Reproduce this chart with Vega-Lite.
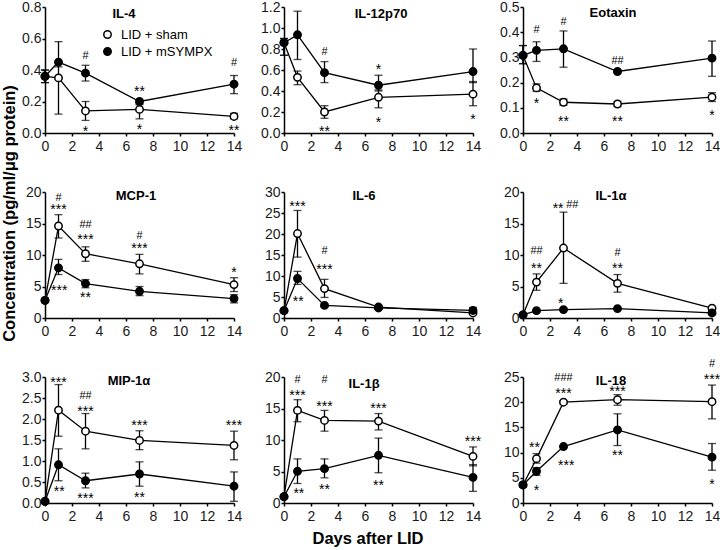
{
"$schema": "https://vega.github.io/schema/vega-lite/v6.json",
"background": "white",
"padding": {"left": 0, "top": 0, "right": 5, "bottom": 2},
"columns": 3,
"spacing": {"row": 59, "column": 50},
"bounds": "flush",
"resolve": {"scale": {"fill": "independent"}, "legend": {"fill": "independent"}},
"datasets": {
"d": [
{"c":"IL-4","g":"LID + sham","day":0,"m":0.36,"lo":0.32,"hi":0.40},
{"c":"IL-4","g":"LID + sham","day":1,"m":0.35,"lo":0.12,"hi":0.45},
{"c":"IL-4","g":"LID + sham","day":3,"m":0.14,"lo":0.08,"hi":0.20},
{"c":"IL-4","g":"LID + sham","day":7,"m":0.15,"lo":0.09,"hi":0.18},
{"c":"IL-4","g":"LID + sham","day":14,"m":0.105,"lo":0.09,"hi":0.125},
{"c":"IL-4","g":"LID + mSYMPX","day":0,"m":0.36,"lo":0.32,"hi":0.40},
{"c":"IL-4","g":"LID + mSYMPX","day":1,"m":0.45,"lo":0.42,"hi":0.58},
{"c":"IL-4","g":"LID + mSYMPX","day":3,"m":0.38,"lo":0.33,"hi":0.43},
{"c":"IL-4","g":"LID + mSYMPX","day":7,"m":0.20,"lo":0.19,"hi":0.21},
{"c":"IL-4","g":"LID + mSYMPX","day":14,"m":0.31,"lo":0.25,"hi":0.365},
{"c":"IL-12p70","g":"LID + sham","day":0,"m":0.86,"lo":0.74,"hi":0.9},
{"c":"IL-12p70","g":"LID + sham","day":1,"m":0.53,"lo":0.46,"hi":0.59},
{"c":"IL-12p70","g":"LID + sham","day":3,"m":0.20,"lo":0.14,"hi":0.26},
{"c":"IL-12p70","g":"LID + sham","day":7,"m":0.34,"lo":0.24,"hi":0.41},
{"c":"IL-12p70","g":"LID + sham","day":14,"m":0.37,"lo":0.26,"hi":0.49},
{"c":"IL-12p70","g":"LID + mSYMPX","day":0,"m":0.86,"lo":0.74,"hi":0.9},
{"c":"IL-12p70","g":"LID + mSYMPX","day":1,"m":0.935,"lo":0.70,"hi":1.16},
{"c":"IL-12p70","g":"LID + mSYMPX","day":3,"m":0.575,"lo":0.48,"hi":0.68},
{"c":"IL-12p70","g":"LID + mSYMPX","day":7,"m":0.455,"lo":0.40,"hi":0.55},
{"c":"IL-12p70","g":"LID + mSYMPX","day":14,"m":0.585,"lo":0.48,"hi":0.80},
{"c":"Eotaxin","g":"LID + sham","day":0,"m":0.308,"lo":0.275,"hi":0.347},
{"c":"Eotaxin","g":"LID + sham","day":1,"m":0.179,"lo":0.165,"hi":0.195},
{"c":"Eotaxin","g":"LID + sham","day":3,"m":0.122,"lo":0.11,"hi":0.135},
{"c":"Eotaxin","g":"LID + sham","day":7,"m":0.115,"lo":0.105,"hi":0.125},
{"c":"Eotaxin","g":"LID + sham","day":14,"m":0.142,"lo":0.125,"hi":0.16},
{"c":"Eotaxin","g":"LID + mSYMPX","day":0,"m":0.308,"lo":0.275,"hi":0.347},
{"c":"Eotaxin","g":"LID + mSYMPX","day":1,"m":0.328,"lo":0.284,"hi":0.362},
{"c":"Eotaxin","g":"LID + mSYMPX","day":3,"m":0.334,"lo":0.261,"hi":0.405},
{"c":"Eotaxin","g":"LID + mSYMPX","day":7,"m":0.244,"lo":0.238,"hi":0.25},
{"c":"Eotaxin","g":"LID + mSYMPX","day":14,"m":0.297,"lo":0.225,"hi":0.365},
{"c":"MCP-1","g":"LID + sham","day":0,"m":2.8,"lo":2.5,"hi":3.1},
{"c":"MCP-1","g":"LID + sham","day":1,"m":14.6,"lo":12.7,"hi":16.4},
{"c":"MCP-1","g":"LID + sham","day":3,"m":10.2,"lo":9.0,"hi":11.3},
{"c":"MCP-1","g":"LID + sham","day":7,"m":8.6,"lo":7.0,"hi":10.1},
{"c":"MCP-1","g":"LID + sham","day":14,"m":5.3,"lo":4.2,"hi":6.4},
{"c":"MCP-1","g":"LID + mSYMPX","day":0,"m":2.8,"lo":2.5,"hi":3.1},
{"c":"MCP-1","g":"LID + mSYMPX","day":1,"m":7.96,"lo":6.9,"hi":9.3},
{"c":"MCP-1","g":"LID + mSYMPX","day":3,"m":5.46,"lo":4.8,"hi":6.1},
{"c":"MCP-1","g":"LID + mSYMPX","day":7,"m":4.24,"lo":3.55,"hi":5.0},
{"c":"MCP-1","g":"LID + mSYMPX","day":14,"m":3.08,"lo":2.4,"hi":3.7},
{"c":"IL-6","g":"LID + sham","day":0,"m":1.75,"lo":1.4,"hi":2.1},
{"c":"IL-6","g":"LID + sham","day":1,"m":20.1,"lo":14.5,"hi":25.6},
{"c":"IL-6","g":"LID + sham","day":3,"m":7.0,"lo":4.9,"hi":9.2},
{"c":"IL-6","g":"LID + sham","day":7,"m":2.6,"lo":2.2,"hi":3.0},
{"c":"IL-6","g":"LID + sham","day":14,"m":1.2,"lo":1.0,"hi":1.4},
{"c":"IL-6","g":"LID + mSYMPX","day":0,"m":1.75,"lo":1.4,"hi":2.1},
{"c":"IL-6","g":"LID + mSYMPX","day":1,"m":9.4,"lo":8.0,"hi":11.1},
{"c":"IL-6","g":"LID + mSYMPX","day":3,"m":3.0,"lo":2.7,"hi":3.3},
{"c":"IL-6","g":"LID + mSYMPX","day":7,"m":2.4,"lo":2.1,"hi":2.7},
{"c":"IL-6","g":"LID + mSYMPX","day":14,"m":1.8,"lo":1.2,"hi":2.5},
{"c":"IL-1α","g":"LID + sham","day":0,"m":0.5,"lo":0.4,"hi":0.6},
{"c":"IL-1α","g":"LID + sham","day":1,"m":5.7,"lo":4.4,"hi":7.0},
{"c":"IL-1α","g":"LID + sham","day":3,"m":11.1,"lo":5.5,"hi":16.8},
{"c":"IL-1α","g":"LID + sham","day":7,"m":5.5,"lo":4.1,"hi":6.9},
{"c":"IL-1α","g":"LID + sham","day":14,"m":1.55,"lo":1.4,"hi":1.7},
{"c":"IL-1α","g":"LID + mSYMPX","day":0,"m":0.5,"lo":0.4,"hi":0.6},
{"c":"IL-1α","g":"LID + mSYMPX","day":1,"m":1.17,"lo":1.0,"hi":1.3},
{"c":"IL-1α","g":"LID + mSYMPX","day":3,"m":1.33,"lo":1.2,"hi":1.45},
{"c":"IL-1α","g":"LID + mSYMPX","day":7,"m":1.49,"lo":1.35,"hi":1.6},
{"c":"IL-1α","g":"LID + mSYMPX","day":14,"m":0.8,"lo":0.7,"hi":0.9},
{"c":"MIP-1α","g":"LID + sham","day":0,"m":0.04,"lo":0.02,"hi":0.06},
{"c":"MIP-1α","g":"LID + sham","day":1,"m":2.21,"lo":1.59,"hi":2.82},
{"c":"MIP-1α","g":"LID + sham","day":3,"m":1.71,"lo":1.29,"hi":2.13},
{"c":"MIP-1α","g":"LID + sham","day":7,"m":1.49,"lo":1.27,"hi":1.72},
{"c":"MIP-1α","g":"LID + sham","day":14,"m":1.37,"lo":1.03,"hi":1.71},
{"c":"MIP-1α","g":"LID + mSYMPX","day":0,"m":0.04,"lo":0.02,"hi":0.06},
{"c":"MIP-1α","g":"LID + mSYMPX","day":1,"m":0.91,"lo":0.53,"hi":1.29},
{"c":"MIP-1α","g":"LID + mSYMPX","day":3,"m":0.53,"lo":0.36,"hi":0.71},
{"c":"MIP-1α","g":"LID + mSYMPX","day":7,"m":0.69,"lo":0.40,"hi":0.98},
{"c":"MIP-1α","g":"LID + mSYMPX","day":14,"m":0.40,"lo":0.04,"hi":0.74},
{"c":"IL-1β","g":"LID + sham","day":0,"m":1.0,"lo":0.8,"hi":1.2},
{"c":"IL-1β","g":"LID + sham","day":1,"m":14.7,"lo":12.9,"hi":16.4},
{"c":"IL-1β","g":"LID + sham","day":3,"m":13.1,"lo":11.4,"hi":14.7},
{"c":"IL-1β","g":"LID + sham","day":7,"m":13.0,"lo":11.6,"hi":14.2},
{"c":"IL-1β","g":"LID + sham","day":14,"m":7.4,"lo":5.9,"hi":8.9},
{"c":"IL-1β","g":"LID + mSYMPX","day":0,"m":1.0,"lo":0.8,"hi":1.2},
{"c":"IL-1β","g":"LID + mSYMPX","day":1,"m":5.03,"lo":3.1,"hi":7.0},
{"c":"IL-1β","g":"LID + mSYMPX","day":3,"m":5.45,"lo":4.0,"hi":7.0},
{"c":"IL-1β","g":"LID + mSYMPX","day":7,"m":7.57,"lo":4.8,"hi":10.3},
{"c":"IL-1β","g":"LID + mSYMPX","day":14,"m":4.07,"lo":1.85,"hi":6.1},
{"c":"IL-18","g":"LID + sham","day":0,"m":3.58,"lo":3.2,"hi":4.0},
{"c":"IL-18","g":"LID + sham","day":1,"m":8.8,"lo":7.9,"hi":9.8},
{"c":"IL-18","g":"LID + sham","day":3,"m":20.0,"lo":19.7,"hi":20.3},
{"c":"IL-18","g":"LID + sham","day":7,"m":20.5,"lo":19.4,"hi":21.5},
{"c":"IL-18","g":"LID + sham","day":14,"m":20.1,"lo":16.7,"hi":23.4},
{"c":"IL-18","g":"LID + mSYMPX","day":0,"m":3.58,"lo":3.2,"hi":4.0},
{"c":"IL-18","g":"LID + mSYMPX","day":1,"m":6.3,"lo":5.5,"hi":7.0},
{"c":"IL-18","g":"LID + mSYMPX","day":3,"m":11.2,"lo":11.0,"hi":11.4},
{"c":"IL-18","g":"LID + mSYMPX","day":7,"m":14.5,"lo":11.4,"hi":17.7},
{"c":"IL-18","g":"LID + mSYMPX","day":14,"m":9.1,"lo":6.5,"hi":11.8}
],
"a": [
{"c":"IL-4","day":5.85,"ay":0.757,"t":"IL-4"},
{"c":"IL-4","day":3,"ay":0.49,"t":"#"},
{"c":"IL-4","day":3,"ay":0.03,"t":"*"},
{"c":"IL-4","day":7,"ay":0.286,"t":"**"},
{"c":"IL-4","day":7,"ay":0.042,"t":"*"},
{"c":"IL-4","day":14,"ay":0.442,"t":"#"},
{"c":"IL-4","day":14,"ay":0.035,"t":"**"},
{"c":"IL-12p70","day":7.19,"ay":1.136,"t":"IL-12p70"},
{"c":"IL-12p70","day":3,"ay":0.775,"t":"#"},
{"c":"IL-12p70","day":3,"ay":0.05,"t":"**"},
{"c":"IL-12p70","day":7,"ay":0.64,"t":"*"},
{"c":"IL-12p70","day":7,"ay":0.137,"t":"*"},
{"c":"IL-12p70","day":14,"ay":0.16,"t":"*"},
{"c":"Eotaxin","day":6.67,"ay":0.476,"t":"Eotaxin"},
{"c":"Eotaxin","day":1,"ay":0.41,"t":"#"},
{"c":"Eotaxin","day":1,"ay":0.13,"t":"*"},
{"c":"Eotaxin","day":3,"ay":0.44,"t":"#"},
{"c":"Eotaxin","day":3,"ay":0.06,"t":"**"},
{"c":"Eotaxin","day":7,"ay":0.285,"t":"##"},
{"c":"Eotaxin","day":7,"ay":0.06,"t":"**"},
{"c":"Eotaxin","day":14,"ay":0.082,"t":"*"},
{"c":"MCP-1","day":6.74,"ay":19.37,"t":"MCP-1"},
{"c":"MCP-1","day":1,"ay":19.1,"t":"#"},
{"c":"MCP-1","day":1,"ay":17.7,"t":"***"},
{"c":"MCP-1","day":1.05,"ay":5.0,"t":"***"},
{"c":"MCP-1","day":3,"ay":14.7,"t":"##"},
{"c":"MCP-1","day":3,"ay":13.0,"t":"***"},
{"c":"MCP-1","day":3,"ay":3.8,"t":"**"},
{"c":"MCP-1","day":7,"ay":13.0,"t":"#"},
{"c":"MCP-1","day":7,"ay":11.6,"t":"***"},
{"c":"MCP-1","day":14,"ay":7.7,"t":"*"},
{"c":"IL-6","day":5.93,"ay":29.05,"t":"IL-6"},
{"c":"IL-6","day":1,"ay":27.3,"t":"***"},
{"c":"IL-6","day":1.06,"ay":4.8,"t":"**"},
{"c":"IL-6","day":3,"ay":15.9,"t":"#"},
{"c":"IL-6","day":3,"ay":12.3,"t":"***"},
{"c":"IL-1α","day":6.52,"ay":19.37,"t":"IL-1α"},
{"c":"IL-1α","day":1,"ay":10.6,"t":"##"},
{"c":"IL-1α","day":1,"ay":8.4,"t":"**"},
{"c":"IL-1α","day":2.6,"ay":18.0,"t":"**"},
{"c":"IL-1α","day":3.65,"ay":18.0,"t":"##"},
{"c":"IL-1α","day":2.8,"ay":2.9,"t":"*"},
{"c":"IL-1α","day":7,"ay":10.3,"t":"#"},
{"c":"IL-1α","day":7,"ay":8.4,"t":"**"},
{"c":"MIP-1α","day":6.22,"ay":2.905,"t":"MIP-1α"},
{"c":"MIP-1α","day":1,"ay":2.95,"t":"***"},
{"c":"MIP-1α","day":1.05,"ay":0.36,"t":"**"},
{"c":"MIP-1α","day":3,"ay":2.54,"t":"##"},
{"c":"MIP-1α","day":3,"ay":2.26,"t":"***"},
{"c":"MIP-1α","day":3,"ay":0.18,"t":"***"},
{"c":"MIP-1α","day":7,"ay":1.92,"t":"***"},
{"c":"MIP-1α","day":7,"ay":0.21,"t":"**"},
{"c":"MIP-1α","day":14,"ay":1.94,"t":"***"},
{"c":"IL-1β","day":5.93,"ay":18.9,"t":"IL-1β"},
{"c":"IL-1β","day":1,"ay":19.6,"t":"#"},
{"c":"IL-1β","day":1,"ay":17.6,"t":"***"},
{"c":"IL-1β","day":1.1,"ay":2.1,"t":"**"},
{"c":"IL-1β","day":3,"ay":19.5,"t":"#"},
{"c":"IL-1β","day":3,"ay":15.9,"t":"***"},
{"c":"IL-1β","day":3,"ay":2.65,"t":"**"},
{"c":"IL-1β","day":7,"ay":15.6,"t":"***"},
{"c":"IL-1β","day":7,"ay":3.4,"t":"**"},
{"c":"IL-1β","day":14,"ay":10.3,"t":"***"},
{"c":"IL-18","day":6.52,"ay":24.2,"t":"IL-18"},
{"c":"IL-18","day":0.85,"ay":11.7,"t":"**"},
{"c":"IL-18","day":1,"ay":3.1,"t":"*"},
{"c":"IL-18","day":3,"ay":24.8,"t":"###"},
{"c":"IL-18","day":3,"ay":22.4,"t":"***"},
{"c":"IL-18","day":3.2,"ay":8.1,"t":"***"},
{"c":"IL-18","day":7,"ay":22.9,"t":"***"},
{"c":"IL-18","day":7,"ay":10.2,"t":"**"},
{"c":"IL-18","day":14,"ay":27.5,"t":"#"},
{"c":"IL-18","day":14,"ay":25.1,"t":"***"},
{"c":"IL-18","day":14,"ay":4.3,"t":"*"}
]
},
"concat": [
{"width":189,"height":126,
 "data":{"name":"d"},"transform":[{"filter":"datum.c=='IL-4'"}],
 "encoding":{"x":{"field":"day","type":"quantitative","title":null,"scale":{"domain":[0,14]},"axis":{"values":[0,2,4,6,8,10,12,14]}},
  "y":{"field":"m","type":"quantitative","title":null,"scale":{"domain":[0,0.8]},"axis":{"values":[0,0.2,0.4,0.6,0.8],"format":".1f"}}},
 "layer":[
  {"mark":"line","encoding":{"detail":{"field":"g"}}},
  {"mark":"rule","encoding":{"y":{"field":"lo","type":"quantitative","title":null},"y2":{"field":"hi"}}},
  {"mark":{"type":"tick","orient":"horizontal"},"encoding":{"y":{"field":"lo","type":"quantitative","title":null}}},
  {"mark":{"type":"tick","orient":"horizontal"},"encoding":{"y":{"field":"hi","type":"quantitative","title":null}}},
  {"mark":{"type":"point","filled":true,"stroke":"black","strokeWidth":1.5,"size":55,"opacity":1},"encoding":{"fill":{"field":"g","type":"nominal","scale":{"domain":["LID + sham","LID + mSYMPX"],"range":["white","black"]},
   "legend":{"orient":"none","legendX":56,"legendY":21,"title":null,"labelFontSize":13,"labelColor":"black","symbolStrokeColor":"black","symbolStrokeWidth":1.5,"symbolSize":55,"symbolType":"circle","rowPadding":2,"labelOffset":7}}}},
  {"data":{"name":"a"},"transform":[{"filter":"datum.c=='IL-4' && datum.t!=datum.c && indexof(datum.t,'#')<0"}],"mark":{"type":"text","style":"ast"},"encoding":{"y":{"field":"ay","type":"quantitative","title":null},"text":{"field":"t"}}},
  {"data":{"name":"a"},"transform":[{"filter":"datum.c=='IL-4' && indexof(datum.t,'#')>=0"}],"mark":{"type":"text","style":"hash"},"encoding":{"y":{"field":"ay","type":"quantitative","title":null},"text":{"field":"t"}}},
  {"data":{"name":"a"},"transform":[{"filter":"datum.c=='IL-4' && datum.t==datum.c"}],"mark":{"type":"text","style":"ptitle"},"encoding":{"y":{"field":"ay","type":"quantitative","title":null},"text":{"field":"t"}}}
 ]},
{"width":189,"height":126,
 "data":{"name":"d"},"transform":[{"filter":"datum.c=='IL-12p70'"}],
 "encoding":{"x":{"field":"day","type":"quantitative","title":null,"scale":{"domain":[0,14]},"axis":{"values":[0,2,4,6,8,10,12,14]}},
  "y":{"field":"m","type":"quantitative","title":null,"scale":{"domain":[0,1.2]},"axis":{"values":[0,0.2,0.4,0.6,0.8,1.0,1.2],"format":".1f"}}},
 "layer":[
  {"mark":"line","encoding":{"detail":{"field":"g"}}},
  {"mark":"rule","encoding":{"y":{"field":"lo","type":"quantitative","title":null},"y2":{"field":"hi"}}},
  {"mark":{"type":"tick","orient":"horizontal"},"encoding":{"y":{"field":"lo","type":"quantitative","title":null}}},
  {"mark":{"type":"tick","orient":"horizontal"},"encoding":{"y":{"field":"hi","type":"quantitative","title":null}}},
  {"mark":{"type":"point","filled":true,"stroke":"black","strokeWidth":1.5,"size":55,"opacity":1},"encoding":{"fill":{"field":"g","type":"nominal","scale":{"domain":["LID + sham","LID + mSYMPX"],"range":["white","black"]},"legend":null}}},
  {"data":{"name":"a"},"transform":[{"filter":"datum.c=='IL-12p70' && datum.t!=datum.c && indexof(datum.t,'#')<0"}],"mark":{"type":"text","style":"ast"},"encoding":{"y":{"field":"ay","type":"quantitative","title":null},"text":{"field":"t"}}},
  {"data":{"name":"a"},"transform":[{"filter":"datum.c=='IL-12p70' && indexof(datum.t,'#')>=0"}],"mark":{"type":"text","style":"hash"},"encoding":{"y":{"field":"ay","type":"quantitative","title":null},"text":{"field":"t"}}},
  {"data":{"name":"a"},"transform":[{"filter":"datum.c=='IL-12p70' && datum.t==datum.c"}],"mark":{"type":"text","style":"ptitle"},"encoding":{"y":{"field":"ay","type":"quantitative","title":null},"text":{"field":"t"}}}
 ]},
{"width":189,"height":126,
 "data":{"name":"d"},"transform":[{"filter":"datum.c=='Eotaxin'"}],
 "encoding":{"x":{"field":"day","type":"quantitative","title":null,"scale":{"domain":[0,14]},"axis":{"values":[0,2,4,6,8,10,12,14]}},
  "y":{"field":"m","type":"quantitative","title":null,"scale":{"domain":[0,0.5]},"axis":{"values":[0,0.1,0.2,0.3,0.4,0.5],"format":".1f"}}},
 "layer":[
  {"mark":"line","encoding":{"detail":{"field":"g"}}},
  {"mark":"rule","encoding":{"y":{"field":"lo","type":"quantitative","title":null},"y2":{"field":"hi"}}},
  {"mark":{"type":"tick","orient":"horizontal"},"encoding":{"y":{"field":"lo","type":"quantitative","title":null}}},
  {"mark":{"type":"tick","orient":"horizontal"},"encoding":{"y":{"field":"hi","type":"quantitative","title":null}}},
  {"mark":{"type":"point","filled":true,"stroke":"black","strokeWidth":1.5,"size":55,"opacity":1},"encoding":{"fill":{"field":"g","type":"nominal","scale":{"domain":["LID + sham","LID + mSYMPX"],"range":["white","black"]},"legend":null}}},
  {"data":{"name":"a"},"transform":[{"filter":"datum.c=='Eotaxin' && datum.t!=datum.c && indexof(datum.t,'#')<0"}],"mark":{"type":"text","style":"ast"},"encoding":{"y":{"field":"ay","type":"quantitative","title":null},"text":{"field":"t"}}},
  {"data":{"name":"a"},"transform":[{"filter":"datum.c=='Eotaxin' && indexof(datum.t,'#')>=0"}],"mark":{"type":"text","style":"hash"},"encoding":{"y":{"field":"ay","type":"quantitative","title":null},"text":{"field":"t"}}},
  {"data":{"name":"a"},"transform":[{"filter":"datum.c=='Eotaxin' && datum.t==datum.c"}],"mark":{"type":"text","style":"ptitle"},"encoding":{"y":{"field":"ay","type":"quantitative","title":null},"text":{"field":"t"}}}
 ]},
{"width":189,"height":126,
 "data":{"name":"d"},"transform":[{"filter":"datum.c=='MCP-1'"}],
 "encoding":{"x":{"field":"day","type":"quantitative","title":null,"scale":{"domain":[0,14]},"axis":{"values":[0,2,4,6,8,10,12,14]}},
  "y":{"field":"m","type":"quantitative","title":"Concentration (pg/ml/μg protein)","scale":{"domain":[0,20]},"axis":{"values":[0,5,10,15,20],"format":"d","titleX":-36,"titleY":21,"titleAngle":-90,"titleAlign":"center","titleBaseline":"middle"}}},
 "layer":[
  {"mark":"line","encoding":{"detail":{"field":"g"}}},
  {"mark":"rule","encoding":{"y":{"field":"lo","type":"quantitative"},"y2":{"field":"hi"}}},
  {"mark":{"type":"tick","orient":"horizontal"},"encoding":{"y":{"field":"lo","type":"quantitative"}}},
  {"mark":{"type":"tick","orient":"horizontal"},"encoding":{"y":{"field":"hi","type":"quantitative"}}},
  {"mark":{"type":"point","filled":true,"stroke":"black","strokeWidth":1.5,"size":55,"opacity":1},"encoding":{"fill":{"field":"g","type":"nominal","scale":{"domain":["LID + sham","LID + mSYMPX"],"range":["white","black"]},"legend":null}}},
  {"data":{"name":"a"},"transform":[{"filter":"datum.c=='MCP-1' && datum.t!=datum.c && indexof(datum.t,'#')<0"}],"mark":{"type":"text","style":"ast"},"encoding":{"y":{"field":"ay","type":"quantitative"},"text":{"field":"t"}}},
  {"data":{"name":"a"},"transform":[{"filter":"datum.c=='MCP-1' && indexof(datum.t,'#')>=0"}],"mark":{"type":"text","style":"hash"},"encoding":{"y":{"field":"ay","type":"quantitative"},"text":{"field":"t"}}},
  {"data":{"name":"a"},"transform":[{"filter":"datum.c=='MCP-1' && datum.t==datum.c"}],"mark":{"type":"text","style":"ptitle"},"encoding":{"y":{"field":"ay","type":"quantitative"},"text":{"field":"t"}}}
 ]},
{"width":189,"height":126,
 "data":{"name":"d"},"transform":[{"filter":"datum.c=='IL-6'"}],
 "encoding":{"x":{"field":"day","type":"quantitative","title":null,"scale":{"domain":[0,14]},"axis":{"values":[0,2,4,6,8,10,12,14]}},
  "y":{"field":"m","type":"quantitative","title":null,"scale":{"domain":[0,30]},"axis":{"values":[0,5,10,15,20,25,30],"format":"d"}}},
 "layer":[
  {"mark":"line","encoding":{"detail":{"field":"g"}}},
  {"mark":"rule","encoding":{"y":{"field":"lo","type":"quantitative","title":null},"y2":{"field":"hi"}}},
  {"mark":{"type":"tick","orient":"horizontal"},"encoding":{"y":{"field":"lo","type":"quantitative","title":null}}},
  {"mark":{"type":"tick","orient":"horizontal"},"encoding":{"y":{"field":"hi","type":"quantitative","title":null}}},
  {"mark":{"type":"point","filled":true,"stroke":"black","strokeWidth":1.5,"size":55,"opacity":1},"encoding":{"fill":{"field":"g","type":"nominal","scale":{"domain":["LID + sham","LID + mSYMPX"],"range":["white","black"]},"legend":null}}},
  {"data":{"name":"a"},"transform":[{"filter":"datum.c=='IL-6' && datum.t!=datum.c && indexof(datum.t,'#')<0"}],"mark":{"type":"text","style":"ast"},"encoding":{"y":{"field":"ay","type":"quantitative","title":null},"text":{"field":"t"}}},
  {"data":{"name":"a"},"transform":[{"filter":"datum.c=='IL-6' && indexof(datum.t,'#')>=0"}],"mark":{"type":"text","style":"hash"},"encoding":{"y":{"field":"ay","type":"quantitative","title":null},"text":{"field":"t"}}},
  {"data":{"name":"a"},"transform":[{"filter":"datum.c=='IL-6' && datum.t==datum.c"}],"mark":{"type":"text","style":"ptitle"},"encoding":{"y":{"field":"ay","type":"quantitative","title":null},"text":{"field":"t"}}}
 ]},
{"width":189,"height":126,
 "data":{"name":"d"},"transform":[{"filter":"datum.c=='IL-1α'"}],
 "encoding":{"x":{"field":"day","type":"quantitative","title":null,"scale":{"domain":[0,14]},"axis":{"values":[0,2,4,6,8,10,12,14]}},
  "y":{"field":"m","type":"quantitative","title":null,"scale":{"domain":[0,20]},"axis":{"values":[0,5,10,15,20],"format":"d"}}},
 "layer":[
  {"mark":"line","encoding":{"detail":{"field":"g"}}},
  {"mark":"rule","encoding":{"y":{"field":"lo","type":"quantitative","title":null},"y2":{"field":"hi"}}},
  {"mark":{"type":"tick","orient":"horizontal"},"encoding":{"y":{"field":"lo","type":"quantitative","title":null}}},
  {"mark":{"type":"tick","orient":"horizontal"},"encoding":{"y":{"field":"hi","type":"quantitative","title":null}}},
  {"mark":{"type":"point","filled":true,"stroke":"black","strokeWidth":1.5,"size":55,"opacity":1},"encoding":{"fill":{"field":"g","type":"nominal","scale":{"domain":["LID + sham","LID + mSYMPX"],"range":["white","black"]},"legend":null}}},
  {"data":{"name":"a"},"transform":[{"filter":"datum.c=='IL-1α' && datum.t!=datum.c && indexof(datum.t,'#')<0"}],"mark":{"type":"text","style":"ast"},"encoding":{"y":{"field":"ay","type":"quantitative","title":null},"text":{"field":"t"}}},
  {"data":{"name":"a"},"transform":[{"filter":"datum.c=='IL-1α' && indexof(datum.t,'#')>=0"}],"mark":{"type":"text","style":"hash"},"encoding":{"y":{"field":"ay","type":"quantitative","title":null},"text":{"field":"t"}}},
  {"data":{"name":"a"},"transform":[{"filter":"datum.c=='IL-1α' && datum.t==datum.c"}],"mark":{"type":"text","style":"ptitle"},"encoding":{"y":{"field":"ay","type":"quantitative","title":null},"text":{"field":"t"}}}
 ]},
{"width":189,"height":126,
 "data":{"name":"d"},"transform":[{"filter":"datum.c=='MIP-1α'"}],
 "encoding":{"x":{"field":"day","type":"quantitative","title":null,"scale":{"domain":[0,14]},"axis":{"values":[0,2,4,6,8,10,12,14]}},
  "y":{"field":"m","type":"quantitative","title":null,"scale":{"domain":[0,3]},"axis":{"values":[0,0.5,1,1.5,2,2.5,3],"format":".1f"}}},
 "layer":[
  {"mark":"line","encoding":{"detail":{"field":"g"}}},
  {"mark":"rule","encoding":{"y":{"field":"lo","type":"quantitative","title":null},"y2":{"field":"hi"}}},
  {"mark":{"type":"tick","orient":"horizontal"},"encoding":{"y":{"field":"lo","type":"quantitative","title":null}}},
  {"mark":{"type":"tick","orient":"horizontal"},"encoding":{"y":{"field":"hi","type":"quantitative","title":null}}},
  {"mark":{"type":"point","filled":true,"stroke":"black","strokeWidth":1.5,"size":55,"opacity":1},"encoding":{"fill":{"field":"g","type":"nominal","scale":{"domain":["LID + sham","LID + mSYMPX"],"range":["white","black"]},"legend":null}}},
  {"data":{"name":"a"},"transform":[{"filter":"datum.c=='MIP-1α' && datum.t!=datum.c && indexof(datum.t,'#')<0"}],"mark":{"type":"text","style":"ast"},"encoding":{"y":{"field":"ay","type":"quantitative","title":null},"text":{"field":"t"}}},
  {"data":{"name":"a"},"transform":[{"filter":"datum.c=='MIP-1α' && indexof(datum.t,'#')>=0"}],"mark":{"type":"text","style":"hash"},"encoding":{"y":{"field":"ay","type":"quantitative","title":null},"text":{"field":"t"}}},
  {"data":{"name":"a"},"transform":[{"filter":"datum.c=='MIP-1α' && datum.t==datum.c"}],"mark":{"type":"text","style":"ptitle"},"encoding":{"y":{"field":"ay","type":"quantitative","title":null},"text":{"field":"t"}}}
 ]},
{"width":189,"height":126,
 "data":{"name":"d"},"transform":[{"filter":"datum.c=='IL-1β'"}],
 "encoding":{"x":{"field":"day","type":"quantitative","title":"Days after LID","scale":{"domain":[0,14]},"axis":{"values":[0,2,4,6,8,10,12,14],"titlePadding":7,"titleX":83.5,"titleAlign":"center"}},
  "y":{"field":"m","type":"quantitative","title":null,"scale":{"domain":[0,20]},"axis":{"values":[0,5,10,15,20],"format":"d"}}},
 "layer":[
  {"mark":"line","encoding":{"detail":{"field":"g"}}},
  {"mark":"rule","encoding":{"y":{"field":"lo","type":"quantitative","title":null},"y2":{"field":"hi"}}},
  {"mark":{"type":"tick","orient":"horizontal"},"encoding":{"y":{"field":"lo","type":"quantitative","title":null}}},
  {"mark":{"type":"tick","orient":"horizontal"},"encoding":{"y":{"field":"hi","type":"quantitative","title":null}}},
  {"mark":{"type":"point","filled":true,"stroke":"black","strokeWidth":1.5,"size":55,"opacity":1},"encoding":{"fill":{"field":"g","type":"nominal","scale":{"domain":["LID + sham","LID + mSYMPX"],"range":["white","black"]},"legend":null}}},
  {"data":{"name":"a"},"transform":[{"filter":"datum.c=='IL-1β' && datum.t!=datum.c && indexof(datum.t,'#')<0"}],"mark":{"type":"text","style":"ast"},"encoding":{"y":{"field":"ay","type":"quantitative","title":null},"text":{"field":"t"}}},
  {"data":{"name":"a"},"transform":[{"filter":"datum.c=='IL-1β' && indexof(datum.t,'#')>=0"}],"mark":{"type":"text","style":"hash"},"encoding":{"y":{"field":"ay","type":"quantitative","title":null},"text":{"field":"t"}}},
  {"data":{"name":"a"},"transform":[{"filter":"datum.c=='IL-1β' && datum.t==datum.c"}],"mark":{"type":"text","style":"ptitle"},"encoding":{"y":{"field":"ay","type":"quantitative","title":null},"text":{"field":"t"}}}
 ]},
{"width":189,"height":126,
 "data":{"name":"d"},"transform":[{"filter":"datum.c=='IL-18'"}],
 "encoding":{"x":{"field":"day","type":"quantitative","title":null,"scale":{"domain":[0,14]},"axis":{"values":[0,2,4,6,8,10,12,14]}},
  "y":{"field":"m","type":"quantitative","title":null,"scale":{"domain":[0,25]},"axis":{"values":[0,5,10,15,20,25],"format":"d"}}},
 "layer":[
  {"mark":"line","encoding":{"detail":{"field":"g"}}},
  {"mark":"rule","encoding":{"y":{"field":"lo","type":"quantitative","title":null},"y2":{"field":"hi"}}},
  {"mark":{"type":"tick","orient":"horizontal"},"encoding":{"y":{"field":"lo","type":"quantitative","title":null}}},
  {"mark":{"type":"tick","orient":"horizontal"},"encoding":{"y":{"field":"hi","type":"quantitative","title":null}}},
  {"mark":{"type":"point","filled":true,"stroke":"black","strokeWidth":1.5,"size":55,"opacity":1},"encoding":{"fill":{"field":"g","type":"nominal","scale":{"domain":["LID + sham","LID + mSYMPX"],"range":["white","black"]},"legend":null}}},
  {"data":{"name":"a"},"transform":[{"filter":"datum.c=='IL-18' && datum.t!=datum.c && indexof(datum.t,'#')<0"}],"mark":{"type":"text","style":"ast"},"encoding":{"y":{"field":"ay","type":"quantitative","title":null},"text":{"field":"t"}}},
  {"data":{"name":"a"},"transform":[{"filter":"datum.c=='IL-18' && indexof(datum.t,'#')>=0"}],"mark":{"type":"text","style":"hash"},"encoding":{"y":{"field":"ay","type":"quantitative","title":null},"text":{"field":"t"}}},
  {"data":{"name":"a"},"transform":[{"filter":"datum.c=='IL-18' && datum.t==datum.c"}],"mark":{"type":"text","style":"ptitle"},"encoding":{"y":{"field":"ay","type":"quantitative","title":null},"text":{"field":"t"}}}
 ]}
],
"config": {
 "font": "Liberation Sans",
 "view": {"stroke": null},
 "axis": {"domainColor":"black","domainWidth":1.5,"tickColor":"black","tickWidth":1.5,"labelFontSize":14,"labelColor":"#1a1a1a","labelFlush":false,"labelOverlap":false,"grid":false,"titleFontSize":16.5,"titleFontWeight":"bold","titleColor":"black"},
 "axisX": {"tickSize":3,"labelPadding":3},
 "axisY": {"tickSize":3,"labelPadding":1},
 "line": {"color":"black","strokeWidth":1.3},
 "rule": {"color":"black","strokeWidth":1.3},
 "tick": {"color":"black","thickness":1.3,"size":8},
 "style": {"ast":{"fontSize":14,"dy":4,"baseline":"middle","align":"center","color":"black"},"hash":{"fontSize":11,"baseline":"middle","align":"center","color":"black"},"ptitle":{"fontSize":13,"fontWeight":"bold","baseline":"middle","align":"center","color":"black"}}
}
}
